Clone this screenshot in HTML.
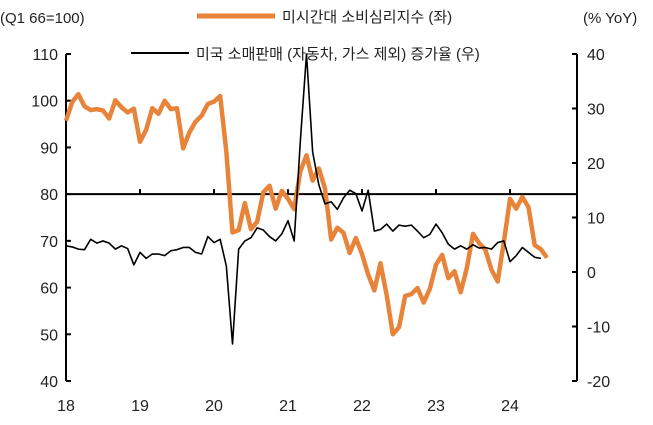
<!DOCTYPE html>
<html><head><meta charset="utf-8"><style>
body{margin:0;background:#fff;}
svg text{font-family:"Liberation Sans","Noto Sans CJK KR",sans-serif;fill:#222;}
</style></head><body>
<svg width="653" height="420" xmlns="http://www.w3.org/2000/svg" id="c">
<text x="0" y="23" font-size="15">(Q1 66=100)</text>
<text x="583" y="23" font-size="15">(% YoY)</text>
<line x1="197" y1="16" x2="275" y2="16" stroke="#E8833A" stroke-width="5"/>
<text x="282" y="22" font-size="15">미시간대 소비심리지수 (좌)</text>
<line x1="131" y1="53" x2="189" y2="53" stroke="#000" stroke-width="2"/>
<text x="196" y="59" font-size="15">미국 소매판매 (자동차, 가스 제외) 증가율 (우)</text>
<g id="axes"></g>
<g id="marks"></g>
</svg>
<script>
const years=["18","19","20","21","22","23","24"];
const leftTicks=[110,100,90,80,70,60,50,40];
const rightTicks=[40,30,20,10,0,-10,-20];
const sentiment=[95.7,99.7,101.4,98.8,98.0,98.2,97.9,96.2,100.1,98.6,97.5,98.3,
91.2,93.8,98.4,97.2,100.0,98.2,98.4,89.8,93.2,95.5,96.8,99.3,
99.8,101.0,89.1,71.8,72.3,78.1,72.5,74.1,80.4,81.8,76.9,80.7,
79.0,76.8,84.9,88.3,82.9,85.5,81.2,70.3,72.8,71.7,67.4,70.6,
67.2,62.8,59.4,65.2,58.4,50.0,51.5,58.2,58.6,59.9,56.8,59.7,
64.9,67.0,62.0,63.5,59.0,64.2,71.5,69.5,68.1,63.8,61.3,69.7,
79.0,76.9,79.4,77.2,69.1,68.2,66.4];
const retail=[4.8,4.6,4.2,4.1,6.0,5.3,5.7,5.3,4.2,4.8,4.3,1.3,
3.6,2.5,3.3,3.3,3.0,3.9,4.1,4.5,4.5,3.6,3.3,6.5,
5.4,6.0,1.1,-13.2,4.2,5.7,6.3,8.1,7.7,6.5,5.7,7.0,
9.4,5.7,24,40,22,16,12.5,12.9,11.5,13.6,15,14.4,
11.2,15,7.5,7.8,8.8,7.5,8.6,8.4,8.6,7.5,6.3,6.9,
8.8,7.2,5.1,4.2,4.8,4.2,5.0,4.4,4.5,4.2,5.4,5.7,
1.9,3.0,4.5,3.6,2.7,2.5];
const X0=66,X1=577,MW=74/12;
const xm=m=>X0+m*MW;
const yl=v=>54+(110-v)*(381-54)/70;
const yr=v=>54+(40-v)*(381-54)/60;
const NS="http://www.w3.org/2000/svg";
function mk(t,a,p){const e=document.createElementNS(NS,t);for(const k in a)e.setAttribute(k,a[k]);p.appendChild(e);return e;}
const ax=document.getElementById('axes'),mg=document.getElementById('marks');
let e=mk('line',{x1:X0,y1:54,x2:X0,y2:381,stroke:'#000','stroke-width':2},ax);

e=mk('line',{x1:X1,y1:54,x2:X1,y2:381,stroke:'#000','stroke-width':2},ax);

e=mk('line',{x1:X0,y1:yl(80),x2:X1,y2:yl(80),stroke:'#000','stroke-width':2},ax);

leftTicks.forEach(v=>{const y=yl(v);
 let t=mk('line',{x1:X0,y1:y,x2:X0+5,y2:y,stroke:'#000','stroke-width':2},ax);
 
 let l=mk('text',{x:X0-8,y:y+6,'font-size':16,'text-anchor':'end'},ax);l.textContent=v;
 });
rightTicks.forEach(v=>{const y=yr(v);
 let t=mk('line',{x1:X1-5,y1:y,x2:X1,y2:y,stroke:'#000','stroke-width':2},ax);
 
 let l=mk('text',{x:X1+10,y:y+6,'font-size':16},ax);l.textContent=v;
 });
years.forEach((yv,i)=>{const x=xm(i*12);
 if(i>0){let t=mk('line',{x1:x,y1:yl(80)-5,x2:x,y2:yl(80),stroke:'#000','stroke-width':2},ax);
 }
 let l=mk('text',{x:x,y:411,'font-size':16,'text-anchor':'middle'},ax);l.textContent=yv;
 });
let p=mk('polyline',{points:sentiment.map((v,i)=>xm(i)+','+yl(v)).join(' '),fill:'none',stroke:'#E8833A','stroke-width':4.5,'stroke-linejoin':'round'},mg);

p=mk('polyline',{points:retail.map((v,i)=>xm(i)+','+yr(v)).join(' '),fill:'none',stroke:'#000','stroke-width':1.6,'stroke-linejoin':'round'},mg);

</script>
</body></html>
